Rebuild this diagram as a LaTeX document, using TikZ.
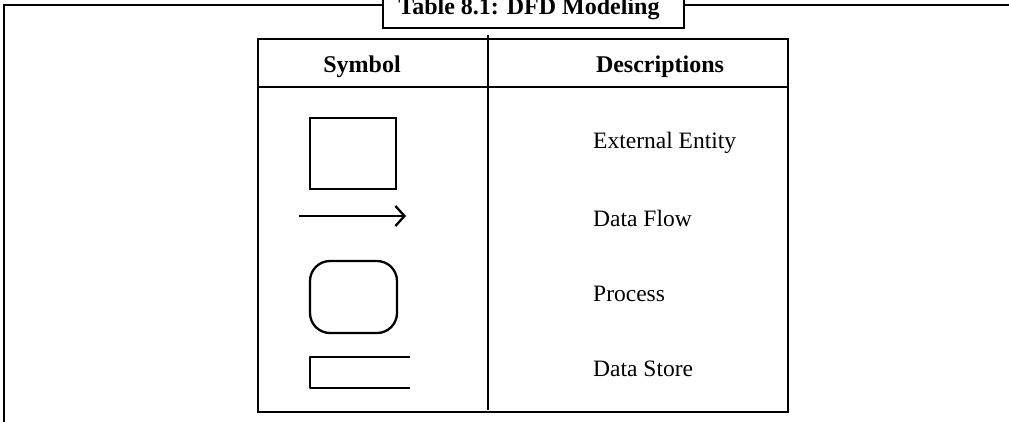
\documentclass[tikz,border=0pt]{standalone}
\usepackage{fontspec}
\setmainfont{Liberation Serif}
\usetikzlibrary{arrows.meta}
\tikzset{
  frameline/.style={line width=2.6pt, draw=black},
  symline/.style={line width=2.3pt, draw=black},
  desc/.style={anchor=west, inner sep=0pt, font=\fontsize{23.5}{27}\selectfont},
  hdr/.style={inner sep=0pt, font=\fontsize{24}{28}\selectfont\bfseries},
  titlebox/.style={line width=2.6pt, draw=black, fill=white},
}
\begin{document}
\begin{tikzpicture}[x=1pt,y=-1pt]
\useasboundingbox (0,0) rectangle (1009,421);
\clip (0,0) rectangle (1009,421);
% outer frame
\draw[frameline] (4,440) -- (4,5) -- (1030,5);
% title box
\draw[titlebox] (383,-20) rectangle (684,28);
\node[hdr, anchor=base] (title) at (529,14) {Table 8.1: DFD Modeling};
% table
\draw[frameline] (258,39) rectangle (788,412);
\draw[frameline] (258,87) -- (788,87);
\coordinate (dtop) at (488,35);
\coordinate (dbot) at (488,410);
\draw[frameline] (dtop) -- (dbot);
\node[hdr] (hsym) at (362,67) {Symbol};
\node[hdr] (hdesc) at (660,67) {Descriptions};
% symbols
\draw[symline] (310,118) rectangle (396,189);
\coordinate (a1) at (299,216);
\coordinate (a2) at (406,216);
\draw[symline, -{Straight Barb[length=9pt,width=20pt,line width=2.3pt]}] (a1) -- (a2);
\draw[symline, rounded corners=20pt] (310,261) rectangle (397,333);
\draw[symline, line join=round] (410,357) -- (310,357) -- (310,388) -- (410,388);
% descriptions
\node[desc] (d1) at (593,143) {External Entity};
\node[desc] (d2) at (593,218) {Data Flow};
\node[desc] (d3) at (593,294) {Process};
\node[desc] (d4) at (593,369) {Data Store};
\end{tikzpicture}
\end{document}
